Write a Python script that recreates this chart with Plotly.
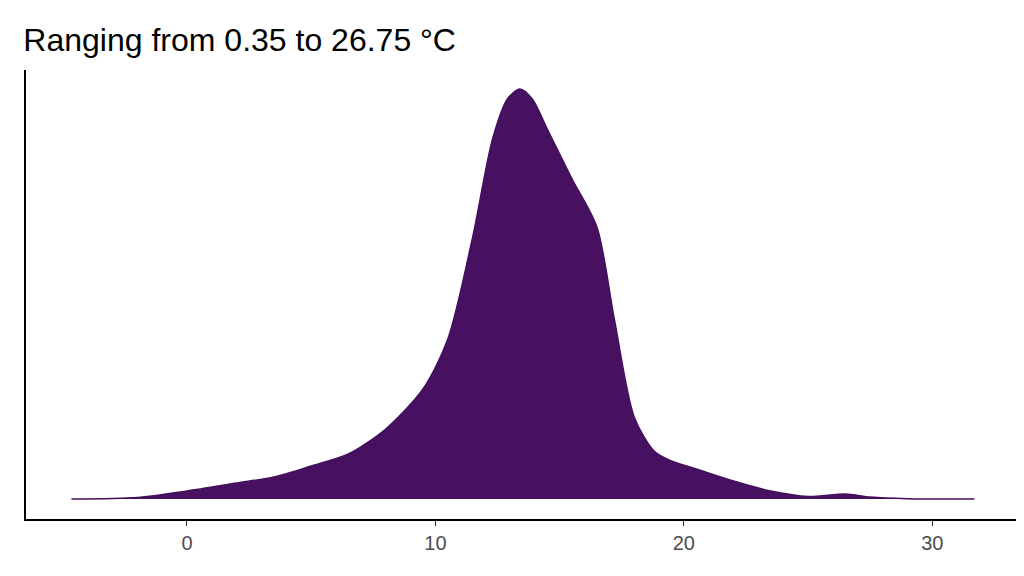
import plotly.graph_objects as go

temp = [-4.65, -2, 0, 2, 3.5, 5, 6.5, 8, 9.5, 10.5, 11.5, 12.3, 12.9, 13.4, 13.9, 14.5, 15.5, 16.5, 17.2, 18, 18.8, 19.5, 20.5, 22, 23.5, 25, 26.5, 27.5, 29, 31.7]
density = [0, 1.5, 8, 16, 22, 33, 45, 70, 110, 160, 262, 360, 400, 410, 400, 370, 320, 272, 180, 82, 48, 38, 30, 18, 8, 2.5, 5, 2, 0.3, 0]
density = [d / 10000 for d in density]

fig = go.Figure(go.Scatter(x=temp, y=density, mode="lines", line=dict(color="#440F5C", width=1.5, shape="spline", smoothing=0.8),
                           fill="tozeroy", fillcolor="#481060", hoverinfo="skip"))
fig.update_layout(
    width=1024, height=576, plot_bgcolor="white", paper_bgcolor="white", showlegend=False,
    margin=dict(l=18, r=14, t=62, b=65),
    title=dict(text="Ranging from 0.35 to 26.75 °C", x=0.015, xanchor="left", y=0.945, yanchor="middle",
               font=dict(family="Liberation Sans, Arial", size=32, color="black")),
    xaxis=dict(range=[-6.48, 33.45], tickvals=[0, 10, 20, 30], showgrid=False, zeroline=False,
               showline=True, linecolor="black", linewidth=2, ticks="outside", ticklen=5, tickcolor="#333",
               tickfont=dict(family="Liberation Sans, Arial", size=20, color="#4d4d4d")),
    yaxis=dict(range=[-0.002, 0.0429], showticklabels=False, showgrid=False, zeroline=False,
               showline=True, linecolor="black", linewidth=2, ticks=""),
)
fig.write_html("out.html")
